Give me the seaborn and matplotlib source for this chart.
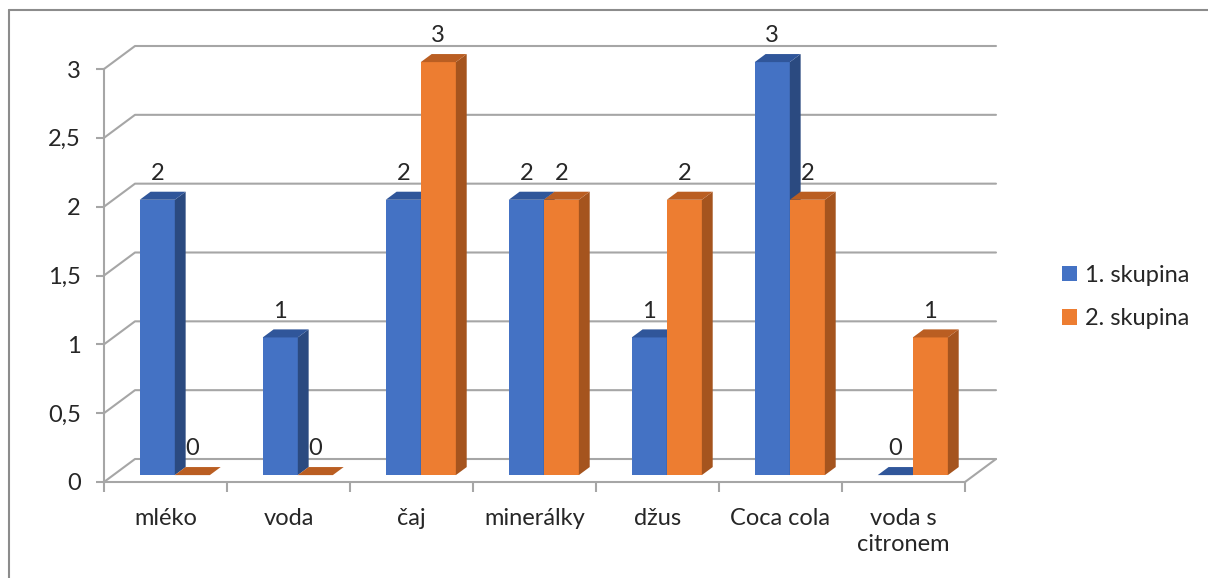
import numpy as np
import pandas as pd
import matplotlib
matplotlib.use("Agg")
import matplotlib.pyplot as plt
import seaborn as sns
from matplotlib.patches import Polygon, Patch
from matplotlib.lines import Line2D

# --- data -------------------------------------------------------------
categories = ["mléko", "voda", "čaj", "minerálky", "džus", "Coca cola", "voda s\ncitronem"]
series = ["1. skupina", "2. skupina"]
skupina1 = [2, 1, 2, 2, 1, 3, 0]
skupina2 = [0, 0, 3, 2, 2, 2, 1]
ytick_values = [0, 0.5, 1, 1.5, 2, 2.5, 3]
ytick_labels = ["0", "0,5", "1", "1,5", "2", "2,5", "3"]

# --- style ------------------------------------------------------------
front_colors = ["#4472C4", "#ED7D31"]
side_colors = ["#2B4A80", "#A5541E"]
top_colors = ["#30569A", "#BA5E22"]
grid_color = "#a6a6a6"
text_color = "#262626"
fs = 17

sns.set_theme(style="white")
plt.rcParams["font.family"] = ["Lato", "DejaVu Sans"]
plt.rcParams["text.color"] = text_color
plt.rcParams["xtick.color"] = text_color
plt.rcParams["ytick.color"] = text_color

W, H = 1208, 578
fig = plt.figure(figsize=(W / 100, H / 100), dpi=100)
L, R, B, T = 104, 965, 482, 69
ax = fig.add_axes([L / W, 1 - B / H, (R - L) / W, (B - T) / H])

df = pd.DataFrame({
    "nápoj": categories * 2,
    "počet": skupina1 + skupina2,
    "skupina": [series[0]] * len(categories) + [series[1]] * len(categories),
})
sns.barplot(data=df, x="nápoj", y="počet", hue="skupina", order=categories,
            hue_order=series, palette=dict(zip(series, front_colors)),
            width=0.57, saturation=1, linewidth=0, errorbar=None,
            legend=False, ax=ax)

ax.set_xlim(-0.5, len(categories) - 0.5)
ax.set_ylim(0, 3)

# oblique depth of the wall, in data units
px_x = len(categories) / (R - L)
px_y = 3 / (B - T)
DX, DY = 31 * px_x, 23 * px_y
f0, f1 = 0.30, 0.65          # bar front / back depth fractions
bdx, bdy = (f1 - f0) * DX, (f1 - f0) * DY

# back wall gridlines with their oblique connectors
xmin, xmax = ax.get_xlim()
lw = 1.5
for v in ytick_values:
    ax.add_line(Line2D([xmin, xmin + DX, xmax + DX], [v, v + DY, v + DY],
                       color=grid_color, lw=lw, clip_on=False, zorder=1))
ax.add_line(Line2D([xmax, xmax + DX], [0, DY], color=grid_color, lw=lw,
                   clip_on=False, zorder=1))

# extrude bars into 3D boxes
for hi, cont in enumerate(ax.containers):
    for ci, rect in enumerate(cont):
        x0 = rect.get_x()
        w = rect.get_width()
        h = rect.get_height()
        xs = x0 + f0 * DX
        ys = f0 * DY
        z = 3 + ci + hi * 0.4
        rect.set_x(xs)
        rect.set_y(ys)
        rect.set_clip_on(False)
        rect.set_zorder(z)
        x1 = xs + w
        side = Polygon([(x1, ys), (x1, ys + h), (x1 + bdx, ys + h + bdy), (x1 + bdx, ys + bdy)],
                       closed=True, facecolor=side_colors[hi], edgecolor="none",
                       clip_on=False, zorder=z + 0.1)
        top = Polygon([(xs, ys + h), (x1, ys + h), (x1 + bdx, ys + h + bdy), (xs + bdx, ys + h + bdy)],
                      closed=True, facecolor=top_colors[hi], edgecolor="none",
                      clip_on=False, zorder=z + 0.2)
        ax.add_patch(side)
        ax.add_patch(top)
        ax.annotate(f"{h:g}", (xs + w / 2, ys + h), xytext=(0, 19),
                    textcoords="offset points", ha="center", va="center",
                    fontsize=fs, color=text_color, zorder=20,
                    annotation_clip=False)

# axes, ticks
for s in ["top", "right"]:
    ax.spines[s].set_visible(False)
for s in ["left", "bottom"]:
    ax.spines[s].set_color(grid_color)
    ax.spines[s].set_linewidth(lw)
    ax.spines[s].set_zorder(2)

ax.set_yticks(ytick_values)
ax.set_yticklabels(ytick_labels)
ax.set_xticks(range(len(categories)))
ax.set_xticklabels(categories, linespacing=1.3)
ax.set_xticks(np.arange(-0.5, len(categories), 1.0), minor=True)
ax.tick_params(axis="y", left=True, length=5.8, width=lw, color=grid_color,
               pad=11, labelsize=fs)
ax.tick_params(axis="x", which="major", bottom=True, length=0, pad=19,
               labelsize=fs)
ax.tick_params(axis="x", which="minor", bottom=True, length=7.2, width=lw,
               color=grid_color)
ax.set_xlabel("")
ax.set_ylabel("")
ax.grid(False)
ax.set_facecolor("none")

# legend
handles = [Patch(facecolor=c, edgecolor="none") for c in front_colors]
fig.legend(handles, series, loc="center left", bbox_to_anchor=(1062 / W, 1 - 297 / H),
           frameon=False, fontsize=fs, handlelength=0.62, handleheight=0.62,
           handletextpad=0.35, labelspacing=0.95, borderpad=0, borderaxespad=0)

# chart area border
border = "#8c8c8c"
fig.add_artist(Line2D([8.5 / W, 8.5 / W], [0, 1 - 9.5 / H], transform=fig.transFigure,
                      color=border, lw=1.5))
fig.add_artist(Line2D([8.5 / W, 1], [1 - 9.5 / H, 1 - 9.5 / H], transform=fig.transFigure,
                      color=border, lw=1.5))

fig.savefig("out.png", dpi=100, facecolor="white")
